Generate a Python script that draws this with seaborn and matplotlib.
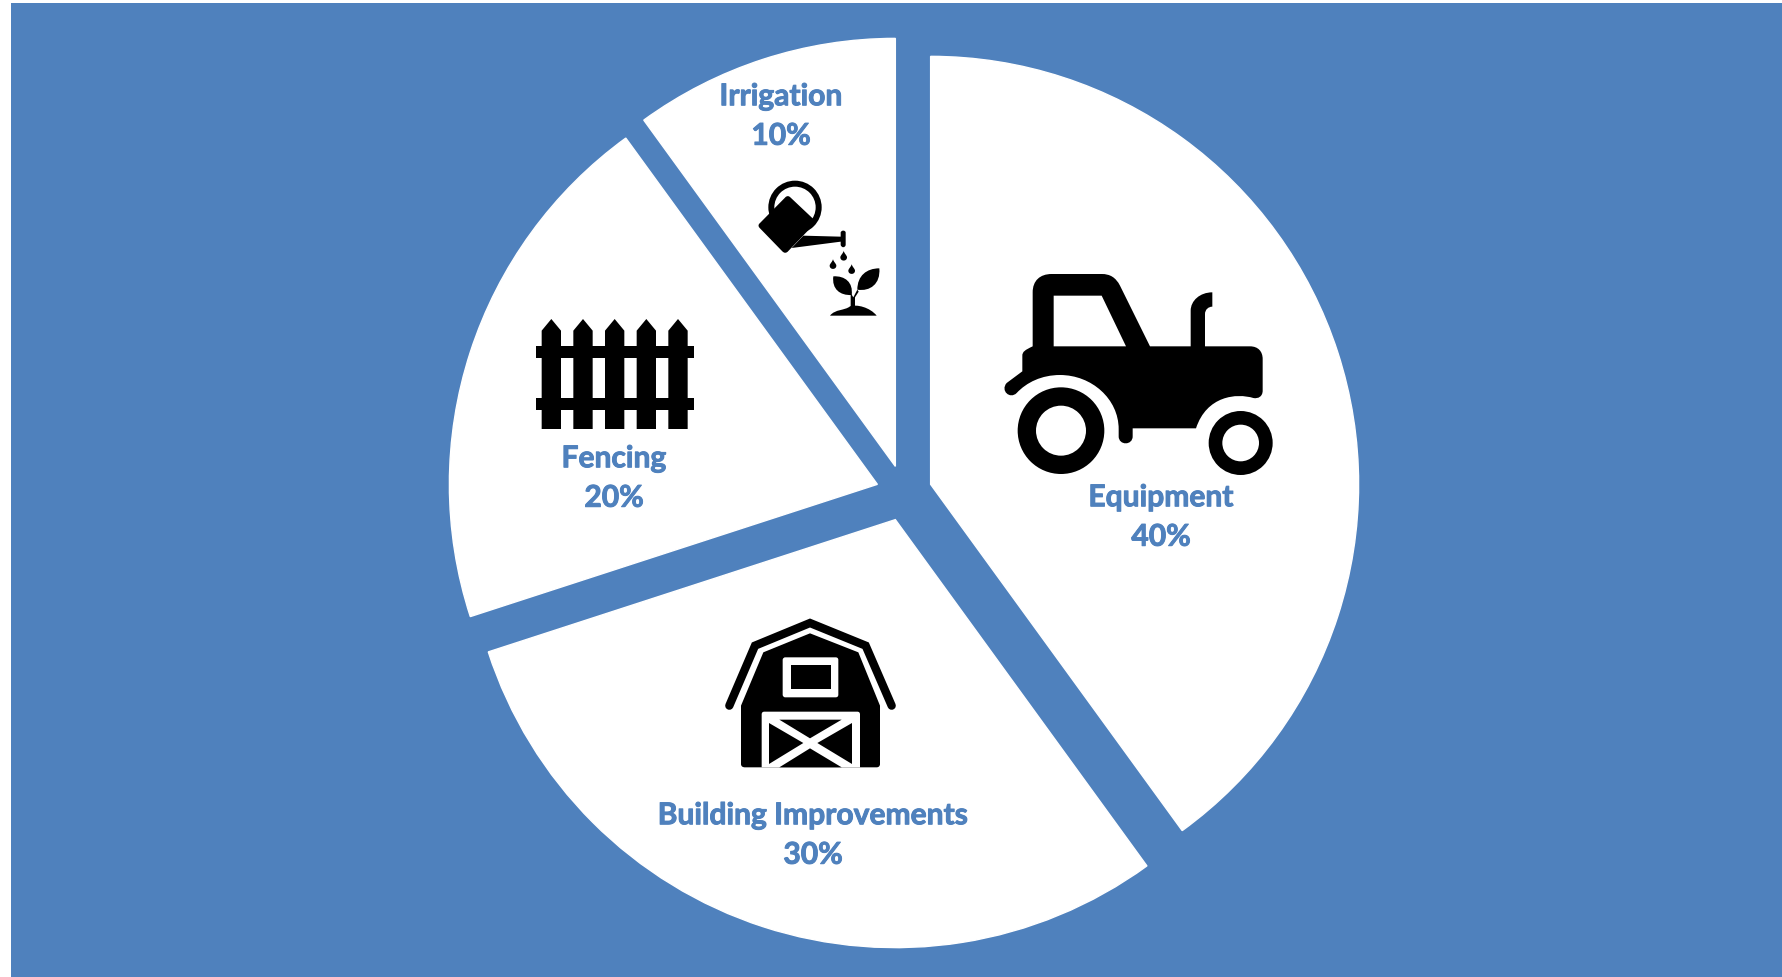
import matplotlib
matplotlib.use("Agg")
import matplotlib.patheffects as pe
import matplotlib.pyplot as plt
import seaborn as sns
from matplotlib.patches import Circle, PathPatch
from matplotlib.path import Path

categories = ["Equipment", "Building Improvements", "Fencing", "Irrigation"]
shares = [40, 30, 20, 10]

W, H = 1783, 978
BLUE = "#4F81BD"

# label centres, in picture pixels
label_xy = [(1161, 518), (813, 836), (614, 479), (781, 117)]

sns.set_theme(style="white")
plt.rcParams["font.family"] = ["Lato", "DejaVu Sans"]


def place(origin, x, y):
    """Zoomed-crop coordinates (3x) to axes pixels."""
    return origin[0] + x / 3, H - (origin[1] + y / 3)


def shape(ax, origin, segments, color="black", zorder=5):
    """Filled outline: a point is a line, three points are a cubic curve."""
    verts, codes = [place(origin, *segments[0])], [Path.MOVETO]
    for seg in segments[1:]:
        if len(seg) == 3:
            verts += [place(origin, *p) for p in seg]
            codes += [Path.CURVE4] * 3
        else:
            verts.append(place(origin, *seg))
            codes.append(Path.LINETO)
    verts.append(verts[0])
    codes.append(Path.CLOSEPOLY)
    ax.add_patch(PathPatch(Path(verts, codes), fc=color, ec="none", zorder=zorder))


def ring(ax, origin, cx, cy, outer, inner, zorder=5):
    x, y = place(origin, cx, cy)
    ax.add_patch(Circle((x, y), outer / 3, fc="black", ec="none", zorder=zorder))
    ax.add_patch(Circle((x, y), inner / 3, fc="white", ec="none", zorder=zorder))


def draw_tractor(ax):
    o = (950, 240)
    shape(ax, o, [
        (248, 322), (248, 160), ((248, 125), (270, 105), (305, 105)), (455, 105),
        ((480, 105), (497, 115), (510, 140)), (600, 322), (722, 322), (722, 215),
        ((722, 185), (750, 160), (787, 160)), (787, 203),
        ((775, 203), (765, 212), (765, 225)), (765, 322), (900, 322),
        ((925, 322), (938, 338), (938, 360)), (938, 455),
        ((938, 472), (925, 480), (910, 477)), ((860, 462), (770, 470), (738, 568)),
        (548, 568), (548, 592), ((548, 620), (506, 620), (506, 592)), (506, 570),
        ((506, 480), (425, 408), (330, 408)), ((275, 408), (230, 430), (200, 462)),
        ((180, 482), (150, 455), (170, 432)), (217, 397), (217, 350),
        ((217, 338), (225, 333), (248, 322)),
    ])
    shape(ax, o, [(311, 170), (455, 170), (528, 322), (311, 322)], color="white", zorder=6)
    ring(ax, o, 333, 575, 130, 75)
    ring(ax, o, 872, 612, 96, 55)


def draw_barn(ax):
    o = (700, 600)
    roof = [place(o, *p) for p in [(88, 320), (165, 140), (330, 72), (497, 140), (575, 320)]]
    ax.add_patch(PathPatch(Path(roof), fc="none", ec="black", lw=6, capstyle="round",
                           joinstyle="miter", zorder=5))
    shape(ax, o, [
        (123, 320), (190, 160), (330, 103), (475, 160), (540, 320), (540, 495),
        ((540, 502), (535, 505), (530, 505)), (135, 505), ((128, 505), (123, 502), (123, 495)),
    ])
    shape(ax, o, [(248, 183), ((248, 178), (252, 175), (256, 175)), (407, 175),
                  ((412, 175), (415, 178), (415, 183)), (415, 287),
                  ((415, 292), (412, 295), (407, 295)), (256, 295),
                  ((252, 295), (248, 292), (248, 287))], color="white", zorder=6)
    shape(ax, o, [(272, 198), (393, 198), (393, 270), (272, 270)], zorder=7)
    shape(ax, o, [(185, 346), ((185, 341), (188, 338), (193, 338)), (472, 338),
                  ((477, 338), (480, 341), (480, 346)), (480, 505), (185, 505)],
          color="white", zorder=6)
    shape(ax, o, [(207, 372), (207, 495), (310, 432)], zorder=7)
    shape(ax, o, [(238, 362), (425, 362), (330, 418)], zorder=7)
    shape(ax, o, [(456, 372), (456, 495), (352, 432)], zorder=7)
    shape(ax, o, [(238, 505), (425, 505), (330, 448)], zorder=7)


def draw_fence(ax):
    o = (520, 170)
    for left in [65, 160, 255, 350, 445]:
        shape(ax, o, [(left, 780), (left, 485), (left + 29, 450), (left + 58, 485), (left + 58, 780)])
    shape(ax, o, [(47, 532), (521, 532), (521, 567), (47, 567)])
    shape(ax, o, [(47, 687), (521, 687), (521, 722), (47, 722)])


def draw_can(ax):
    o = (520, 170)
    ring(ax, o, 825, 115, 80, 62)
    shape(ax, o, [(795, 86), ((800, 80), (806, 80), (811, 85)), (880, 150),
                  ((886, 156), (886, 162), (880, 168)), (805, 246),
                  ((799, 253), (793, 253), (787, 247)), (720, 178),
                  ((714, 172), (714, 167), (720, 162))], zorder=6)
    shape(ax, o, [(850, 200), (962, 203), (962, 190), ((965, 183), (975, 183), (977, 190)),
                  (977, 228), ((975, 237), (965, 237), (962, 228)), (962, 218), (815, 237)], zorder=6)
    for dx, dy in [(971, 245), (939, 270), (995, 285)]:
        shape(ax, o, [(dx, dy), ((1 + dx, dy + 8), (dx + 10, dy + 14), (dx + 10, dy + 20)),
                      ((dx + 10, dy + 33), (dx - 10, dy + 33), (dx - 10, dy + 20)),
                      ((dx - 10, dy + 14), (dx - 1, dy + 8), (dx, dy))])
    shape(ax, o, [(940, 322), ((975, 320), (1000, 340), (995, 378)),
                  ((960, 380), (935, 360), (940, 322))])
    shape(ax, o, [(1078, 298), ((1082, 345), (1050, 368), (1012, 362)),
                  ((1012, 320), (1040, 298), (1078, 298))])
    shape(ax, o, [(992, 372), (1000, 385), (1012, 362), (1016, 368), (1005, 385), (1005, 420), (992, 420)])
    shape(ax, o, [(930, 440), ((945, 420), (975, 425), (990, 412)),
                  ((1010, 405), (1050, 415), (1070, 440))])


fig = plt.figure(figsize=(W / 100, H / 100), dpi=100, facecolor="white")
ax = fig.add_axes([11 / W, 0, (W - 11) / W, (H - 4) / H], facecolor=BLUE)

# matplotlib takes explode as a plain offset, not scaled by the radius
ax.pie(
    shares,
    explode=[28] * len(shares),
    colors=["white"] * len(shares),
    center=(904, H - 494),
    radius=428,
    startangle=90,
    counterclock=False,
    frame=True,
)
ax.set_xlim(11, W)
ax.set_ylim(0, H - 4)
ax.set_xticks([])
ax.set_yticks([])
sns.despine(ax=ax, left=True, bottom=True)

for name, share, (x, y) in zip(categories, shares, label_xy):
    ax.text(x, H - y, f"{name}\n{share}%", color=BLUE, fontsize=21.6, fontweight="bold",
            ha="center", va="center", linespacing=1.5, zorder=8,
            path_effects=[pe.withStroke(linewidth=0.7, foreground=BLUE)])

draw_tractor(ax)
draw_barn(ax)
draw_fence(ax)
draw_can(ax)

fig.savefig("out.png", dpi=100)
plt.close(fig)
